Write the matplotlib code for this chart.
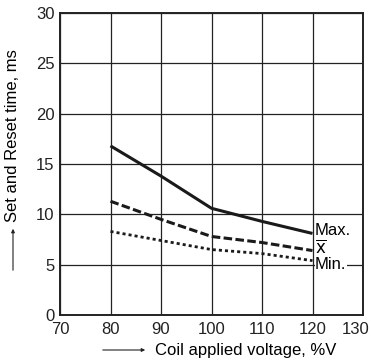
import matplotlib.pyplot as plt
import matplotlib.transforms as mtransforms

plt.rcParams['font.family'] = ['Liberation Sans', 'DejaVu Sans']

voltage = [80, 90, 100, 110, 120]
t_max = [16.8, 13.8, 10.6, 9.3, 8.1]
t_mean = [11.3, 9.5, 7.8, 7.2, 6.4]
t_min = [8.3, 7.4, 6.5, 6.1, 5.4]

x_ticks = [70, 80, 90, 100, 110, 120, 130]
y_ticks = [0, 5, 10, 15, 20, 25, 30]

W, H = 371, 362
fig = plt.figure(figsize=(W / 100, H / 100), dpi=100)
ax = fig.add_axes([60 / W, 47 / H, 303 / W, 302 / H])

ax.plot(voltage, t_max, color='#1a1a1a', lw=2.2, solid_capstyle='butt')
ax.plot(voltage, t_mean, color='#1a1a1a', lw=2.2, dashes=(2.8, 1.1))
ax.plot(voltage, t_min, color='#1a1a1a', lw=2.0, dashes=(1.1, 1.1))

ax.set_xlim(70, 130)
ax.set_ylim(0, 30)
ax.set_xticks(x_ticks)
ax.set_yticks(y_ticks)
ax.grid(True, color='#222222', lw=0.9)
ax.tick_params(length=0, labelsize=12, colors='#222222')
ax.tick_params(axis='x', pad=5)
ax.tick_params(axis='y', pad=4)
for s in ax.spines.values():
    s.set_linewidth(1.4)
    s.set_color('#222222')

# keep the last x label inside the figure
fig.canvas.draw()
last = ax.get_xticklabels()[-1]
last.set_transform(last.get_transform() + mtransforms.ScaledTranslation(-7 / 100, 0, fig.dpi_scale_trans))

box = dict(facecolor='white', edgecolor='none', pad=0.3)
ax.text(120.5, 8.4, 'Max.', fontsize=12, va='center', ha='left', bbox=box)
ax.text(120.5, 6.7, r'$\overline{\mathrm{x}}$', fontsize=12, va='center', ha='left', bbox=box)
ax.text(120.5, 5.0, 'Min.', fontsize=12, va='center', ha='left', bbox=box)

# axis titles with leading arrow lines
fig.text(155 / W, 1 - 350 / H, 'Coil applied voltage, %V', fontsize=12, va='center', ha='left')
ax.annotate('', xy=(148 / W, 1 - 350 / H), xytext=(100 / W, 1 - 350 / H),
            xycoords='figure fraction',
            arrowprops=dict(arrowstyle='-|>', lw=0.8, color='#222222', mutation_scale=5))

fig.text(13 / W, 1 - 136 / H, 'Set and Reset time, ms', fontsize=12, va='center', ha='center', rotation=90)
ax.annotate('', xy=(13 / W, 1 - 226 / H), xytext=(13 / W, 1 - 273 / H),
            xycoords='figure fraction',
            arrowprops=dict(arrowstyle='-|>', lw=0.8, color='#222222', mutation_scale=5))

fig.savefig('out.png', dpi=100)
